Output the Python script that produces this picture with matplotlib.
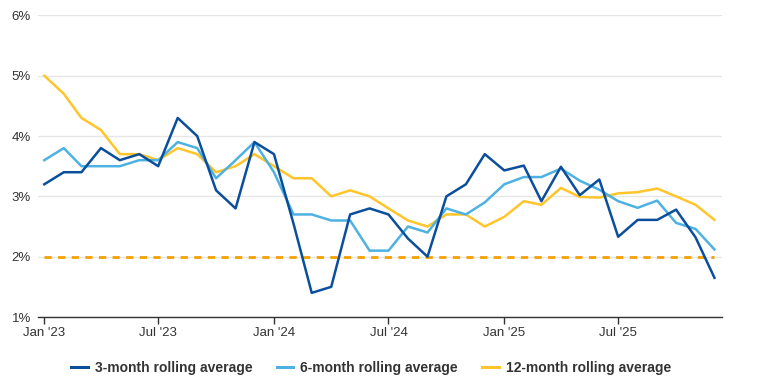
import matplotlib
matplotlib.use("Agg")
import matplotlib.pyplot as plt
import matplotlib.dates as mdates
import pandas as pd

plt.rcParams['font.family'] = ['Liberation Sans', 'DejaVu Sans']

# ---- data ----
months = pd.date_range('2023-01-01', periods=36, freq='MS')
avg3 = [3.2, 3.4, 3.4, 3.8, 3.6, 3.7, 3.5, 4.3, 4.0, 3.1, 2.8, 3.9,
        3.7, 2.55, 1.4, 1.5, 2.7, 2.8, 2.7, 2.3, 2.0, 3.0, 3.2, 3.7,
        3.43, 3.51, 2.92, 3.49, 3.02, 3.28, 2.33, 2.61, 2.61, 2.78, 2.32, 1.65]
avg6 = [3.6, 3.8, 3.5, 3.5, 3.5, 3.6, 3.6, 3.9, 3.8, 3.3, 3.6, 3.9,
        3.4, 2.7, 2.7, 2.6, 2.6, 2.1, 2.1, 2.5, 2.4, 2.8, 2.7, 2.9,
        3.2, 3.32, 3.32, 3.46, 3.26, 3.11, 2.92, 2.81, 2.93, 2.56, 2.46, 2.12]
avg12 = [5.0, 4.7, 4.3, 4.1, 3.7, 3.7, 3.6, 3.8, 3.7, 3.4, 3.5, 3.7,
         3.5, 3.3, 3.3, 3.0, 3.1, 3.0, 2.8, 2.6, 2.5, 2.7, 2.7, 2.5,
         2.66, 2.92, 2.86, 3.14, 2.99, 2.98, 3.05, 3.07, 3.13, 3.0, 2.86, 2.61]
target = [2.0] * 36
series_names = ['3-month rolling average', '6-month rolling average', '12-month rolling average']
tick_dates = pd.to_datetime(['2023-01-01', '2023-07-01', '2024-01-01',
                             '2024-07-01', '2025-01-01', '2025-07-01'])
tick_labels = ["Jan '23", "Jul '23", "Jan '24", "Jul '24", "Jan '25", "Jul '25"]
y_ticks = [1, 2, 3, 4, 5, 6]
y_labels = ['1%', '2%', '3%', '4%', '5%', '6%']

# ---- figure ----
W, H = 758, 383
fig = plt.figure(figsize=(W / 100, H / 100), dpi=100)
ax = fig.add_axes([38 / W, 1 - 317 / H, (722 - 38) / W, (317 - 15.4) / H])

c3, c6, c12, corange = '#0B4F9C', '#4DB2E2', '#FFC52B', '#F5A000'

ax.plot(months, target, color=corange, lw=2, dashes=(2.6, 2.3), zorder=2)
ax.plot(months, avg12, color=c12, lw=1.8, label=series_names[2], zorder=3)
ax.plot(months, avg6, color=c6, lw=1.8, label=series_names[1], zorder=4)
ax.plot(months, avg3, color=c3, lw=1.8, label=series_names[0], zorder=5)

ax.set_ylim(1, 6)
ax.set_xlim(months[0] - pd.Timedelta(days=10), months[-1] + pd.Timedelta(days=12))
ax.set_yticks(y_ticks)
ax.set_yticklabels(y_labels)
ax.set_xticks(tick_dates)
ax.set_xticklabels(tick_labels)

ax.grid(axis='y', color='#e6e6e6', lw=1)
ax.set_axisbelow(True)
for s in ['top', 'right', 'left']:
    ax.spines[s].set_visible(False)
ax.spines['bottom'].set_color('#333333')
ax.spines['bottom'].set_linewidth(1)
ax.tick_params(axis='x', length=5, width=1, color='#333333', labelsize=9.5,
               labelcolor='#333333', pad=2.5)
ax.tick_params(axis='y', length=0, labelsize=9.5, labelcolor='#333333', pad=5)

handles, labels = ax.get_legend_handles_labels()
order = [2, 1, 0]
leg = fig.legend([handles[i] for i in order], [labels[i] for i in order],
                 loc='center', bbox_to_anchor=(371 / W, 1 - 368 / H), ncol=3,
                 frameon=False, handlelength=1.2, handletextpad=0.5,
                 columnspacing=1.75, prop={'weight': 'bold', 'size': 10})
for t in leg.get_texts():
    t.set_color('#333333')
for l in leg.get_lines():
    l.set_linewidth(2.2)

fig.savefig('out.png', dpi=100)
